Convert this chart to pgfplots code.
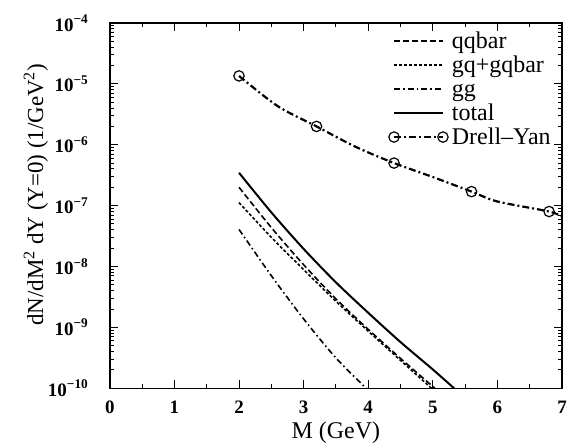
\documentclass[border=0pt]{standalone}
\usepackage{fontspec}
\setmainfont{Liberation Serif}
\usepackage{pgfplots}
\pgfplotsset{compat=1.18}
\pgfplotsset{dylegend/.style={legend image code/.code={\path[draw=none] (0pt,0pt) -- (29pt,0pt);
  \draw[##1,mark indices={1,2}] plot coordinates {(0pt,0pt) (24.5pt,0pt)};}}}
\newcommand{\lrow}{\rule[-3pt]{0pt}{12pt}}

\begin{document}
\begin{tikzpicture}[font=\fontsize{11}{13}\selectfont]
\begin{axis}[
  width=226.5pt,height=183pt,scale only axis,
  xmin=0,xmax=7,
  ymode=log,ymin=1e-10,ymax=1e-4,
  xtick={0,1,2,3,4,5,6,7},
  minor x tick num=1,
  ytick={1e-10,1e-9,1e-8,1e-7,1e-6,1e-5,1e-4},
  yticklabels={10\textsuperscript{−10},10\textsuperscript{−9},10\textsuperscript{−8},
    10\textsuperscript{−7},10\textsuperscript{−6},10\textsuperscript{−5},10\textsuperscript{−4}},
  xticklabel style={/pgf/number format/assume math mode=true,font=\fontsize{9.5}{11}\selectfont\bfseries,yshift=-3pt},
  yticklabel style={font=\fontsize{9.5}{11}\selectfont\bfseries,xshift=-7pt},
  axis line style={line width=0.8pt},
  major tick length=4pt,minor tick length=2pt,
  tick style={black,line width=0.5pt},
  xlabel={M (GeV)},
  xlabel style={at={(axis description cs:0.5,0)},anchor=center,yshift=-22pt,font=\fontsize{12}{14}\selectfont},
  legend style={draw=none,fill=none,inner sep=0pt,at={(axis description cs:0.625,1)},anchor=north west,
    xshift=-2pt,yshift=-3.7pt,row sep=1.5pt,font=\fontsize{12}{14}\selectfont,
    nodes={inner sep=0pt}},
  legend cell align=left,
  legend image code/.code={\path[draw=none] (0pt,0pt) -- (29pt,0pt);\draw[#1] (0pt,0pt) -- (24.5pt,0pt);},
]
% qqbar
\addplot[black,line width=0.8pt,dash pattern=on 3pt off 1.5pt,smooth] coordinates
  {(2.0,2.0e-7)(2.5,4.37e-8)(3.0,1.07e-8)(3.5,2.95e-9)(4.0,9.3e-10)(4.5,3.1e-10)(5.0,1.07e-10)(5.03,1e-10)};
% gq+gqbar
\addplot[black,line width=0.8pt,dash pattern=on 1.5pt off 1pt,smooth] coordinates
  {(2.0,1.12e-7)(2.5,3.02e-8)(3.0,8.9e-9)(3.5,2.69e-9)(4.0,8.7e-10)(4.5,2.88e-10)(4.98,1e-10)};
% gg
\addplot[black,line width=0.8pt,dash pattern=on 3pt off 1.5pt on 0.8pt off 1.5pt,smooth] coordinates
  {(2.0,4.07e-8)(2.5,7.08e-9)(3.0,1.38e-9)(3.5,3.16e-10)(3.97,1e-10)};
% total
\addplot[black,line width=1pt,smooth] coordinates
  {(2.0,3.47e-7)(2.5,7.76e-8)(3.0,1.95e-8)(3.5,5.5e-9)(4.0,1.74e-9)(4.5,5.75e-10)(5.0,2.04e-10)(5.33,1e-10)};
% Drell-Yan
\addplot[black,line width=1.1pt,dash pattern=on 3.5pt off 1.5pt on 1pt off 1.5pt,smooth,
  mark=o,mark size=2.6pt,mark options={solid,line width=0.6pt},mark indices={1,3,5,7,9},
  dylegend]
  coordinates
  {(2.0,1.35e-5)(2.6,4.3e-6)(3.2,2.0e-6)(3.8,9.3e-7)(4.4,5.0e-7)(5.0,2.95e-7)(5.6,1.7e-7)(6.0,1.17e-7)(6.8,8.0e-8)(7.0,6.6e-8)};
\legend{\lrow qqbar,\lrow gq+gqbar,\lrow gg,\lrow total,\lrow Drell\textendash Yan}
\end{axis}
\node[rotate=90,anchor=center,font=\fontsize{11.5}{13}\selectfont]
  at ([xshift=-37pt,yshift=5.5pt]current axis.west)
  {dN/dM\textsuperscript{2} dY (Y=0) (1/GeV\textsuperscript{2})};
\pgfresetboundingbox
\path[use as bounding box] ([xshift=-55pt,yshift=-27pt]current axis.south west)
  rectangle ([xshift=3pt,yshift=11.5pt]current axis.north east);
\end{tikzpicture}
\end{document}
